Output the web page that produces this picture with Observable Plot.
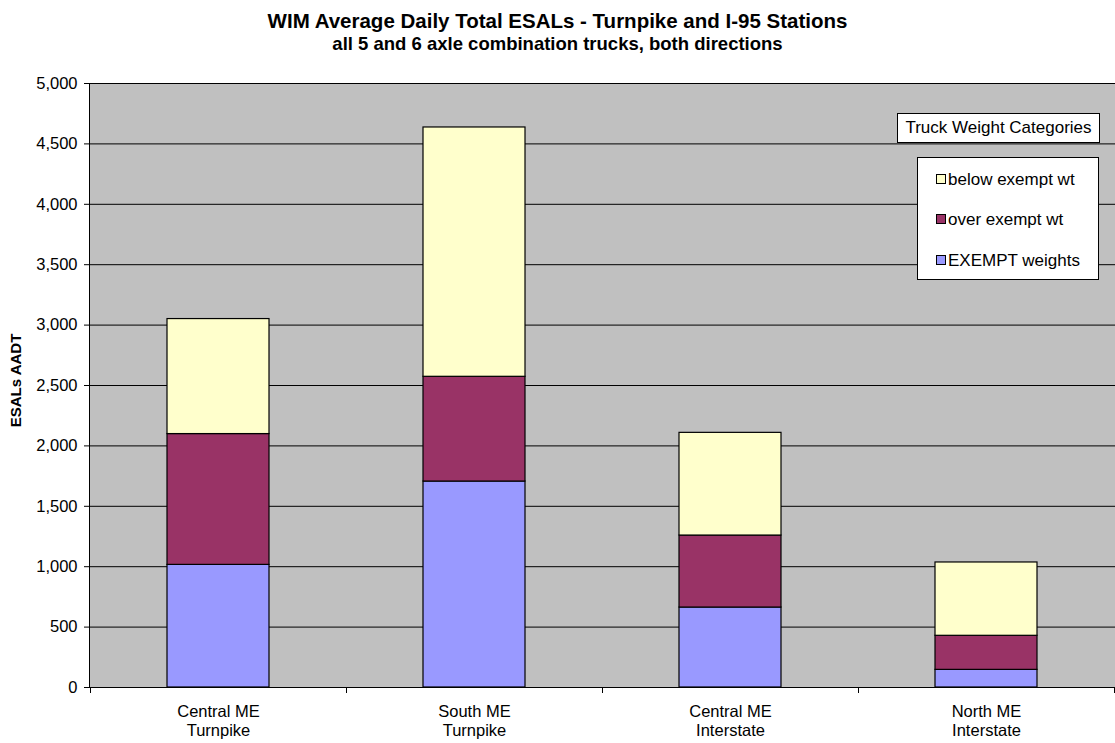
<!DOCTYPE html>
<html>
<head>
<meta charset="utf-8">
<script src="https://cdn.jsdelivr.net/npm/d3@7"></script>
<script src="https://cdn.jsdelivr.net/npm/@observablehq/plot@0.6"></script>
<style>
  html, body { margin: 0; padding: 0; background: #fff; }
  #wrap { position: relative; width: 1115px; height: 743px; font-family: Arial, "Liberation Sans", sans-serif; }
  #wrap svg { position: absolute; left: 0; top: 0; }
  .t { position: absolute; left: 0; width: 1115px; text-align: center; font-weight: bold; color: #000; white-space: nowrap; }
  #ylab { position: absolute; font-weight: bold; font-size: 15px; white-space: nowrap; transform-origin: center center; }
  #lgTitle { position: absolute; left: 897px; top: 113px; width: 201px; height: 28px; background: #fff; border: 1px solid #000; font-size: 17px; line-height: 28px; text-align: center; white-space: nowrap; }
  #lgBox { position: absolute; left: 917px; top: 157px; width: 180px; height: 121px; background: #fff; border: 1px solid #000; }
  .li { position: absolute; left: 18px; font-size: 17px; white-space: nowrap; line-height: 20px; }
  .sw { display: inline-block; width: 8px; height: 8px; border: 1px solid #000; margin-right: 2px; vertical-align: 1px; }
</style>
</head>
<body>
<div id="wrap">
  <div class="t" style="top:9px;font-size:20.5px;">WIM Average Daily Total ESALs - Turnpike and I-95 Stations</div>
  <div class="t" style="top:33px;font-size:18.5px;">all 5 and 6 axle combination trucks, both directions</div>
</div>
<script>
// ---- data ----
const stations = ["Central ME\nTurnpike", "South ME\nTurnpike", "Central ME\nInterstate", "North ME\nInterstate"];
const seriesNames = ["EXEMPT weights", "over exempt wt", "below exempt wt"];
const exemptWeights = [1015, 1705, 662, 146];
const overExemptWt = [1083, 867, 596, 282];
const belowExemptWt = [952, 2064, 850, 607];
const seriesColors = ["#9999FF", "#993366", "#FFFFCC"];
const yTicks = [0, 500, 1000, 1500, 2000, 2500, 3000, 3500, 4000, 4500, 5000];
const legendOrder = ["below exempt wt", "over exempt wt", "EXEMPT weights"];

const seriesValues = [exemptWeights, overExemptWt, belowExemptWt];
const rows = [];
stations.forEach((s, i) => {
  seriesNames.forEach((n, j) => rows.push({station: s, series: n, value: seriesValues[j][i]}));
});

const font = 'Arial, "Liberation Sans", sans-serif';

// boundary ticks between categories on the x axis
function bandTicks(index, scales, values, dims) {
  const x = scales.x;
  const step = x.step(), bw = x.bandwidth();
  const g = d3.create("svg:g");
  const xs = stations.map(s => x(s) + bw / 2 - step / 2);
  xs.push(x(stations[stations.length - 1]) + bw / 2 + step / 2);
  const y0 = dims.height - dims.marginBottom;
  xs.forEach(px => {
    g.append("line").attr("x1", Math.round(px) + 0.5).attr("x2", Math.round(px) + 0.5)
      .attr("y1", y0).attr("y2", y0 + 6).attr("stroke", "#000");
  });
  return g.node();
}

const chart = Plot.plot({
  width: 1115,
  height: 743,
  marginTop: 83,
  marginBottom: 56,
  marginLeft: 89,
  marginRight: 0,
  style: {fontFamily: font, background: "transparent", color: "#000"},
  x: {domain: stations, paddingInner: 0.6, paddingOuter: 0.3, label: null},
  y: {domain: [0, 5000], label: null},
  color: {domain: seriesNames, range: seriesColors},
  marks: [
    Plot.frame({fill: "#C0C0C0", stroke: "none"}),
    Plot.gridY(yTicks, {stroke: "#000", strokeOpacity: 1, strokeWidth: 1}),
    Plot.barY(rows, {x: "station", y: "value", fill: "series", stroke: "#000", strokeWidth: 1.2, order: seriesNames, inset: 0}),
    Plot.frame({anchor: "left", stroke: "#000"}),
    Plot.frame({anchor: "bottom", stroke: "#000"}),
    Plot.axisY({ticks: yTicks, tickFormat: d3.format(","), tickSize: 5, tickPadding: 7, fontSize: 16.5, label: null, stroke: "#000"}),
    Plot.axisX({tickSize: 0, tickPadding: 15, fontSize: 16.5, lineHeight: 1.2, label: null}),
    bandTicks
  ]
});
const wrap = document.getElementById("wrap");
wrap.appendChild(chart);

// y axis title
const yl = document.createElement("div");
yl.id = "ylab";
yl.textContent = "ESALs AADT";
wrap.appendChild(yl);
const w = yl.offsetWidth, h = yl.offsetHeight;
yl.style.left = (16 - w / 2) + "px";
yl.style.top = (380 - h / 2) + "px";
yl.style.transform = "rotate(-90deg)";

// legend
const lt = document.createElement("div");
lt.id = "lgTitle";
lt.textContent = "Truck Weight Categories";
wrap.appendChild(lt);
const lb = document.createElement("div");
lb.id = "lgBox";
wrap.appendChild(lb);
const itemY = [12, 52, 93];
legendOrder.forEach((n, k) => {
  const it = document.createElement("div");
  it.className = "li";
  it.style.top = itemY[k] + "px";
  const sw = document.createElement("span");
  sw.className = "sw";
  sw.style.background = seriesColors[seriesNames.indexOf(n)];
  it.appendChild(sw);
  it.appendChild(document.createTextNode(n));
  lb.appendChild(it);
});
</script>
</body>
</html>
